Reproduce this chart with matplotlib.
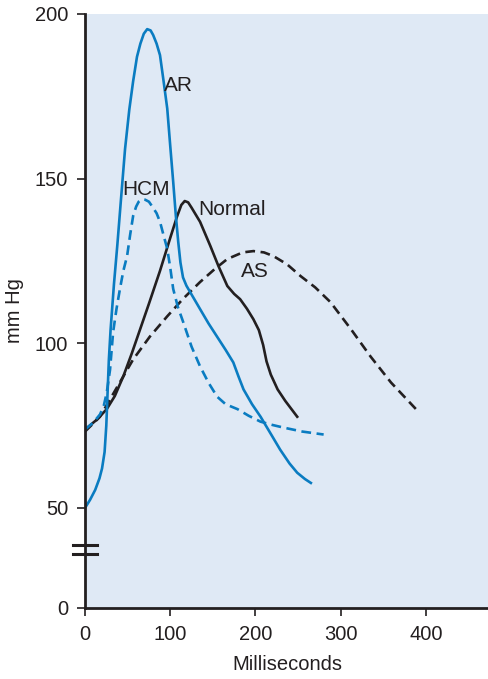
import matplotlib.pyplot as plt
from matplotlib.transforms import blended_transform_factory

plt.rcParams['font.family'] = ['Liberation Sans', 'DejaVu Sans']

BLUE = '#0a7cc1'
BLACK = '#231f20'
BG = '#dfe9f5'

# pressure curves (ms, mm Hg)
ar_t = [0, 6, 12, 17, 20, 23, 25, 26.5, 28, 30, 34, 38, 42, 47, 52, 56.5, 61, 65, 69, 73,
        77, 80, 84, 88, 92, 96.5, 100, 103.5, 106.5, 109.4, 112, 115, 119, 123.5, 135, 145,
        155, 165, 174, 180, 186, 196, 206, 218, 229, 240, 249, 258, 265]
ar_p = [50, 52.5, 55.5, 59, 62, 67, 75, 85, 95, 104, 118, 130, 143, 159, 171, 179.6, 187, 191, 194, 195.4,
        195, 193.6, 191, 187.5, 180, 171.3, 160, 149, 139, 130.8, 124.5, 120, 117.5, 115.5, 110.4, 106,
        102, 98, 94.2, 90, 86, 81.5, 77.7, 72.5, 67.7, 63.5, 60.7, 58.8, 57.6]

normal_t = [0, 13.8, 25.5, 35, 45, 55, 65, 75, 88, 100, 108, 113, 117, 121, 125, 135, 147,
            156.5, 167, 175, 182, 190, 197.6, 204, 209, 213, 218, 226, 235, 249]
normal_p = [73.8, 76.8, 80, 84, 90, 97, 104.5, 112, 122, 132, 138.5, 142, 143.2, 142.8, 141.2, 136.9, 129.6,
            123.5, 117.4, 115, 113.4, 110.5, 107.3, 104, 99.5, 94.5, 90.5, 86, 82.5, 77.7]

as_t = [0, 17.6, 35, 56.5, 76, 96.5, 115, 135, 152, 167, 185, 197.6, 210, 221, 237, 253,
        270, 288, 312, 335, 359, 392]
as_p = [73.2, 77.7, 85.5, 95.1, 102, 108.2, 113.5, 118.6, 122.5, 125.6, 127.6, 128, 127.6, 126.5, 124, 120.4,
        117, 112.5, 104.3, 96, 88.1, 79]

hcm_t = [0, 10, 17.6, 22, 25.5, 29.4, 33, 37, 41, 45, 49.4, 53, 56.5, 60, 63, 66.5, 70.6, 75, 79,
         84, 88, 92, 96.5, 100, 103.5, 109, 115.3, 125, 135, 145, 155, 165, 179, 192, 206, 220, 233,
         255, 280]
hcm_p = [73.8, 76, 78.4, 81, 85, 92, 103.4, 110.5, 116.5, 122, 126.5, 133, 138.7, 141.5, 143, 143.7, 143.6, 143, 141.5,
         139.5, 136.9, 133, 128.7, 123, 116.5, 111, 106.4, 99, 93, 88, 83.8, 81.5, 80, 78, 76.2, 75.2, 74.4,
         73.2, 72.3]

x_ticks = [0, 100, 200, 300, 400]
y_ticks = [0, 50, 100, 150, 200]

# broken axis: everything below 50 is squeezed into a short stub
def squash(p):
    return p if p >= 50 else 50 - (50 - p) * 30.37 / 50

fig = plt.figure(figsize=(4.89, 6.79), dpi=100)
ax = fig.add_axes([0.1738, 0.1046, 0.8262, 0.8748])
ax.set_facecolor(BG)

lw = 1.9
dash = (0, (3.7, 2.1))
ax.plot(as_t, as_p, color=BLACK, lw=lw, ls=dash)
ax.plot(normal_t, normal_p, color=BLACK, lw=lw)
ax.plot(hcm_t, hcm_p, color=BLUE, lw=lw, ls=dash)
ax.plot(ar_t, ar_p, color=BLUE, lw=lw)

ax.text(93, 178.2, 'AR', fontsize=15, color=BLACK, va='center')
ax.text(72, 146.8, 'HCM', fontsize=15, color=BLACK, va='center', ha='center')
ax.text(133, 140.6, 'Normal', fontsize=15, color=BLACK, va='center')
ax.text(199, 121.7, 'AS', fontsize=15, color=BLACK, va='center', ha='center')

ax.set_xlim(0, 474)
ax.set_ylim(squash(0), 200)
ax.set_xticks(x_ticks)
ax.set_yticks([squash(v) for v in y_ticks])
ax.set_yticklabels([str(v) for v in y_ticks])
ax.tick_params(labelsize=14.5, colors=BLACK, length=6, width=1.2, pad=6)

for s in ['top', 'right']:
    ax.spines[s].set_visible(False)
for s in ['left', 'bottom']:
    ax.spines[s].set_linewidth(2)
    ax.spines[s].set_color(BLACK)

# axis break marks
tr = blended_transform_factory(ax.transAxes, ax.transData)
for yb in [squash(31.5), squash(27)]:
    ax.plot([-0.0297, 0.0297], [yb, yb], color=BLACK, lw=2.2, transform=tr, clip_on=False)

ax.set_xlabel('Milliseconds', fontsize=14.5, color=BLACK, labelpad=8)
ax.set_ylabel('mm Hg', fontsize=14.5, color=BLACK, labelpad=8)

fig.savefig('out.png', dpi=100)
